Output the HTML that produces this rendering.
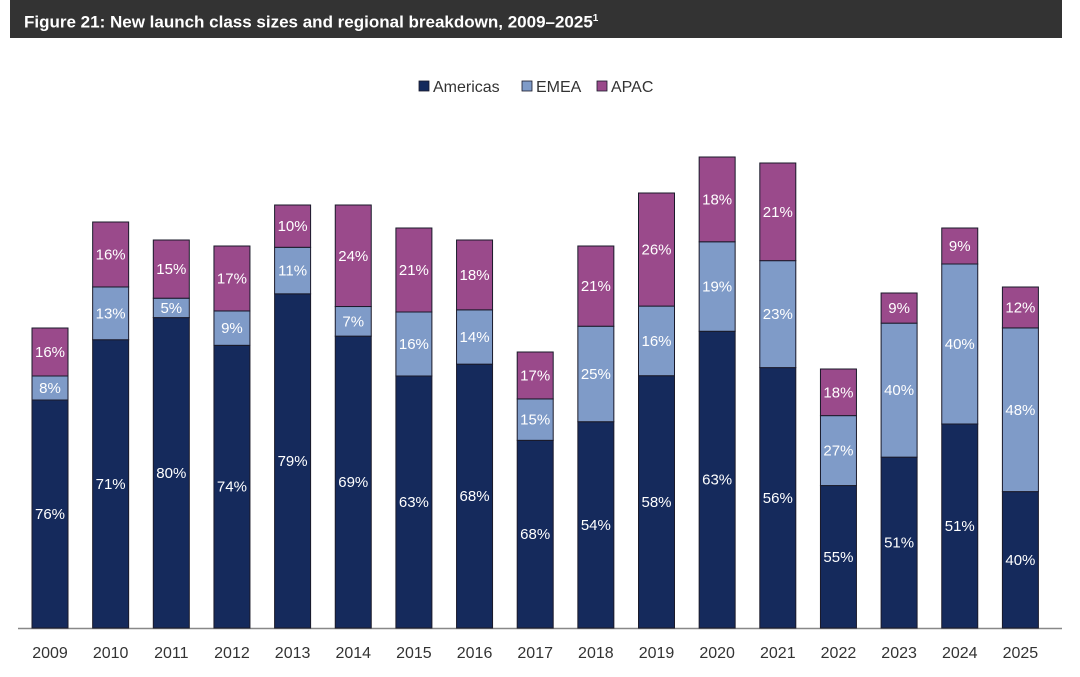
<!DOCTYPE html>
<html><head><meta charset="utf-8">
<style>
body{margin:0;background:#fff;width:1080px;height:677px;overflow:hidden;font-family:"Liberation Sans",sans-serif;}
#hdr{position:absolute;left:10px;top:0;width:1052px;height:38px;background:#333;color:#fff;font-weight:bold;font-size:17px;line-height:38px;padding-left:14px;box-sizing:border-box;}
#hdr sup{font-size:10px;}
svg{position:absolute;left:0;top:0;}
</style></head><body>
<div id="hdr">Figure 21: New launch class sizes and regional breakdown, 2009–2025<sup>1</sup></div>
<svg id="c" width="1080" height="677"></svg>
<script>
const years=["2009","2010","2011","2012","2013","2014","2015","2016","2017","2018","2019","2020","2021","2022","2023","2024","2025"];
const totals=[30,40.6,38.8,38.2,42.3,42.3,40,38.8,27.6,38.2,43.5,47.1,46.5,25.9,33.5,40,34.1];
const americas=[76,71,80,74,79,69,63,68,68,54,58,63,56,55,51,51,40];
const emea=[8,13,5,9,11,7,16,14,15,25,16,19,23,27,40,40,48];
const apac=[16,16,15,17,10,24,21,18,17,21,26,18,21,18,9,9,12];
const seriesNames=["Americas","EMEA","APAC"];
const colors=["#152a5c","#7f9bc8","#9a4a8b"];
const NS="http://www.w3.org/2000/svg";
const svg=document.getElementById('c');
const baseY=628, pxPerUnit=10, x0=50, step=60.65, bw=36;
const xs=i=>x0+i*step;
const ys=v=>v*pxPerUnit;
function mk(t,a){const e=document.createElementNS(NS,t);for(const k in a)e.setAttribute(k,a[k]);svg.appendChild(e);return e;}
const ax=mk('line',{x1:18,x2:1062,y1:baseY+0.5,y2:baseY+0.5,stroke:'#888','stroke-width':1.5});


years.forEach((yr,i)=>{
  const vals=[americas[i],emea[i],apac[i]];
  const sum=vals.reduce((a,b)=>a+b,0);
  let y=baseY;
  vals.forEach((p,s)=>{
    const h=ys(totals[i]*p/sum);
    const r=mk('rect',{x:xs(i)-bw/2,y:y-h,width:bw,height:h,fill:colors[s],stroke:'#1a1a2a','stroke-width':1});
    
    
    const t=mk('text',{x:xs(i),y:y-h/2+5,'text-anchor':'middle',fill:'#fff','font-size':15});
    t.textContent=p+'%';
    
    
    y-=h;
  });
  const l=mk('text',{x:xs(i),y:658,'text-anchor':'middle',fill:'#333','font-size':16});
  l.textContent=yr;
  
  
});
const lx=[419,522,597];
seriesNames.forEach((n,s)=>{
  const r=mk('rect',{x:lx[s],y:81,width:10,height:10,fill:colors[s],stroke:'#1a1a2a','stroke-width':0.8});
  
  
  const t=mk('text',{x:lx[s]+14,y:92,fill:'#333','font-size':16});
  t.textContent=n;
  
  
});
</script>
</body></html>
